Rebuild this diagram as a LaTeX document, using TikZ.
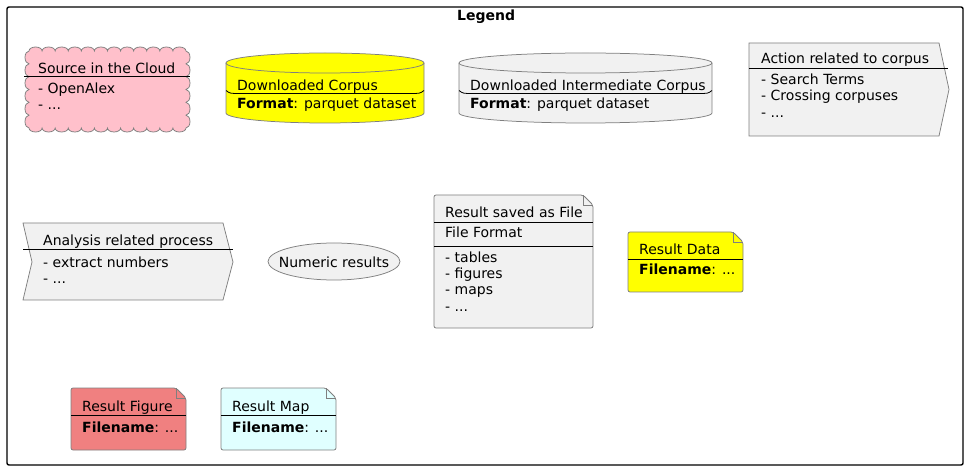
\documentclass[tikz,border=0pt]{standalone}
\usepackage{fontspec}
\setmainfont{DejaVu Sans}
\definecolor{pinkc}{HTML}{FFC0CB}
\definecolor{yelc}{HTML}{FFFF00}
\definecolor{greyc}{HTML}{F1F1F1}
\definecolor{coralc}{HTML}{F08080}
\definecolor{cyanc}{HTML}{E0FFFF}
\definecolor{bordc}{HTML}{7F7F7F}
\tikzset{
  txt/.style={anchor=base west, inner sep=0pt, font=\fontsize{14pt}{16.5pt}\selectfont},
  shapeb/.style={draw=bordc, line width=0.75pt},
  sepl/.style={draw=black, line width=0.8pt},
  notefold/.style={draw=bordc, line width=0.5pt},
}
\begin{document}
\begin{tikzpicture}[x=1pt,y=-1pt]
\useasboundingbox (0,0) rectangle (969,470);
% frame
\draw[line width=1.4pt, rounded corners=2pt] (7,7) rectangle (963,465);
\node[txt, font=\fontsize{14pt}{16.5pt}\selectfont\bfseries] (legend) at (457,20.5) {Legend};

% cloud
\path[shapeb, fill=pinkc] (29,51)
  \foreach \i in {1,...,12} { arc[start angle=180,end angle=0,x radius=6.5417pt,y radius=4pt] }
  \foreach \i in {1,...,6} { arc[start angle=90,end angle=-90,x radius=4pt,y radius=6.4167pt] }
  \foreach \i in {1,...,12} { arc[start angle=0,end angle=-180,x radius=6.5417pt,y radius=4pt] }
  \foreach \i in {1,...,6} { arc[start angle=270,end angle=90,x radius=4pt,y radius=6.4167pt] }
  -- cycle;
\draw[sepl] (24,76.7) -- (190,76.7);
\node[txt] (cloudT) at (38,73.3) {Source in the Cloud};
\node[txt] (cloudA) at (38,93.3) {- OpenAlex};
\node[txt] (cloudB) at (38,110) {- ...};

% yellow cylinder
\path[shapeb, fill=yelc] (226,63) arc[start angle=180,end angle=0,x radius=99pt,y radius=10pt]
  -- (424,113) arc[start angle=0,end angle=-180,x radius=99pt,y radius=10pt] -- cycle;
\draw[shapeb] (226,63) arc[start angle=180,end angle=360,x radius=99pt,y radius=10pt];
\draw[sepl] (226,90.5) .. controls (230,93.5) .. (240,93.5) -- (410,93.5) .. controls (420,93.5) .. (424,90.5);
\node[txt] (dcT) at (237,90.5) {Downloaded Corpus};
\node[txt] (dcF) at (237,109) {\textbf{Format}: parquet dataset};

% grey cylinder
\path[shapeb, fill=greyc] (459,63) arc[start angle=180,end angle=0,x radius=126.5pt,y radius=10pt]
  -- (712,113) arc[start angle=0,end angle=-180,x radius=126.5pt,y radius=10pt] -- cycle;
\draw[shapeb] (459,63) arc[start angle=180,end angle=360,x radius=126.5pt,y radius=10pt];
\draw[sepl] (459,90.5) .. controls (463,93.5) .. (473,93.5) -- (698,93.5) .. controls (708,93.5) .. (712,90.5);
\node[txt] (dicT) at (470,90.5) {Downloaded Intermediate Corpus};
\node[txt] (dicF) at (470,109) {\textbf{Format}: parquet dataset};

% action box
\path[shapeb, fill=greyc] (749,43) -- (939,43) -- (949,89.5) -- (939,136) -- (749,136) -- cycle;
\draw[sepl] (749,68.3) -- (948,68.3);
\node[txt] (actT) at (761,63.3) {Action related to corpus};
\node[txt] (actA) at (761,84.3) {- Search Terms};
\node[txt] (actB) at (761,100.8) {- Crossing corpuses};
\node[txt] (actC) at (761,117.3) {- ...};

% analysis chevron
\path[shapeb, fill=greyc] (23,223) -- (223,223) -- (233,262) -- (223,300) -- (23,300) -- (32,262) -- cycle;
\draw[sepl] (23,249.3) -- (233,249.3);
\node[txt] (anT) at (43,246) {Analysis related process};
\node[txt] (anA) at (43,267.3) {- extract numbers};
\node[txt] (anB) at (43,283.8) {- ...};

% numeric results
\path[shapeb, fill=greyc] (334,261.5) ellipse [x radius=66pt, y radius=18.5pt];
\node[txt, anchor=base] (num) at (334,267.3) {Numeric results};

% result saved as file
\path[shapeb, fill=greyc, rounded corners=2pt] (434,195) -- (583,195) -- (593,205) -- (593,328) -- (434,328) -- cycle;
\draw[notefold] (583,195) -- (583,205) -- (593,205);
\draw[sepl] (434,222) -- (593,222);
\draw[sepl] (434,246) -- (593,246);
\node[txt] (rfT) at (445,218) {Result saved as File};
\node[txt] (rfF) at (445,237.3) {File Format};
\node[txt] (rfA) at (445,262.3) {- tables};
\node[txt] (rfB) at (445,278.6) {- figures};
\node[txt] (rfC) at (445,294.9) {- maps};
\node[txt] (rfD) at (445,311.2) {- ...};

% result data
\path[shapeb, fill=yelc, rounded corners=2pt] (628,232) -- (733,232) -- (743,242) -- (743,292) -- (628,292) -- cycle;
\draw[notefold] (733,232) -- (733,242) -- (743,242);
\draw[sepl] (628,259) -- (743,259);
\node[txt] (rdT) at (639,255) {Result Data};
\node[txt] (rdF) at (639,275) {\textbf{Filename}: ...};

% result figure
\path[shapeb, fill=coralc, rounded corners=2pt] (71,388) -- (176,388) -- (186,398) -- (186,450) -- (71,450) -- cycle;
\draw[notefold] (176,388) -- (176,398) -- (186,398);
\draw[sepl] (71,415) -- (186,415);
\node[txt] (rgT) at (82,411.7) {Result Figure};
\node[txt] (rgF) at (82,432) {\textbf{Filename}: ...};

% result map
\path[shapeb, fill=cyanc, rounded corners=2pt] (221,388) -- (326,388) -- (336,398) -- (336,450) -- (221,450) -- cycle;
\draw[notefold] (326,388) -- (326,398) -- (336,398);
\draw[sepl] (221,415) -- (336,415);
\node[txt] (rmT) at (232,411.7) {Result Map};
\node[txt] (rmF) at (232,432) {\textbf{Filename}: ...};
\end{tikzpicture}
\end{document}
